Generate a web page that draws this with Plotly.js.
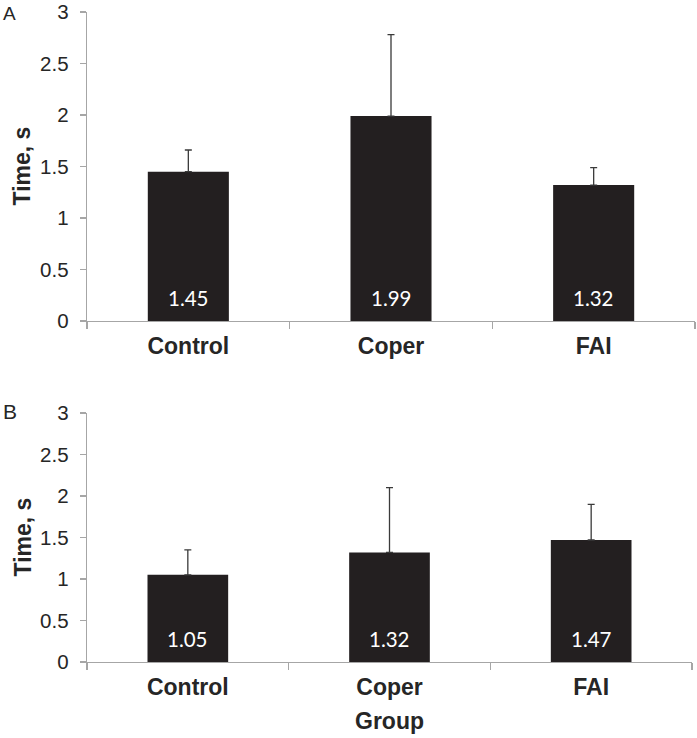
<!DOCTYPE html>
<html>
<head>
<meta charset="utf-8">
<script src="https://cdn.plot.ly/plotly-3.0.1.min.js"></script>
<style>html,body{margin:0;padding:0;background:#fff;}#chart{width:697px;height:738px;}</style>
</head>
<body>
<div id="chart"></div>
<script>
// Data
const groups = ["Control", "Coper", "FAI"];
const meanA = [1.45, 1.99, 1.32];
const errA = [0.21, 0.79, 0.17];
const meanB = [1.05, 1.32, 1.47];
const errB = [0.30, 0.78, 0.43];
const labelsA = ["1.45", "1.99", "1.32"];
const labelsB = ["1.05", "1.32", "1.47"];
const yTickVals = [0, 0.5, 1, 1.5, 2, 2.5, 3];
const yTickText = ["0", "0.5", "1", "1.5", "2", "2.5", "3"];
const yTitle = "Time, s";
const xTitleB = "Group";

const W = 697, H = 738;
const M = {l: 87, r: 2, t: 12, b: 76};
const plotW = W - M.l - M.r, plotH = H - M.t - M.b;
const pxX = px => (px - M.l) / plotW;
const pxY = py => 1 - (py - M.t) / plotH;

const barColor = "#231f20";
const axisColor = "#a6a6a6";
const textColor = "#262626";
const errColor = "#3a3a3a";
const sans = "'Liberation Sans', Arial, sans-serif";

function barTrace(vals, errs, xa, ya) {
  return {
    type: "bar", x: groups, y: vals, xaxis: xa, yaxis: ya,
    width: 0.4, marker: {color: barColor, line: {width: 0}},
    error_y: {type: "data", symmetric: false, array: errs, arrayminus: errs.map(() => 0),
      color: errColor, thickness: 1.3, width: 3.5},
    hoverinfo: "skip", showlegend: false
  };
}

function valueAnns(vals, labels, xa, ya) {
  return groups.map((g, i) => ({
    x: g, y: 0, xref: xa, yref: ya, text: labels[i], showarrow: false,
    yanchor: "bottom", yshift: 9,
    font: {family: "Lato, 'Open Sans', sans-serif", size: 20.5, color: "#ffffff"}
  }));
}

const xAxisBase = {
  type: "category", range: [-0.5, 2.5], tickson: "boundaries",
  ticks: "outside", ticklen: 7, tickcolor: axisColor, tickwidth: 1.3,
  showline: true, linecolor: axisColor, linewidth: 1.3,
  showgrid: false, zeroline: false, fixedrange: true,
  tickfont: {family: sans, size: 23, color: textColor, weight: "bold"},
  ticklabelstandoff: 4
};
const yAxisBase = {
  range: [0, 3], tickvals: yTickVals, ticktext: yTickText,
  ticks: "outside", ticklen: 6, tickcolor: axisColor, tickwidth: 1.3,
  showline: true, linecolor: axisColor, linewidth: 1.3,
  showgrid: false, zeroline: false, fixedrange: true,
  tickfont: {family: sans, size: 20.5, color: textColor},
  ticklabelstandoff: 7
};

const domA = [pxY(321), 1];
const domB = [0, pxY(413)];

function yTitleAnn(dom) {
  return {text: "<b>" + yTitle + "</b>", xref: "paper", yref: "paper",
    x: pxX(22), y: (dom[0] + dom[1]) / 2, xanchor: "center", yanchor: "middle",
    textangle: -90, showarrow: false, font: {family: sans, size: 23, color: textColor}};
}

const layout = {
  width: W, height: H,
  margin: M,
  paper_bgcolor: "#ffffff", plot_bgcolor: "#ffffff",
  showlegend: false,
  bargap: 0.6,
  xaxis: Object.assign({}, xAxisBase, {anchor: "y", domain: [0, 1]}),
  yaxis: Object.assign({}, yAxisBase, {anchor: "x", domain: domA}),
  xaxis2: Object.assign({}, xAxisBase, {anchor: "y2", domain: [0, pxX(692)],
    title: {text: "<b>" + xTitleB + "</b>", font: {family: sans, size: 23, color: textColor}, standoff: 14}}),
  yaxis2: Object.assign({}, yAxisBase, {anchor: "x2", domain: domB}),
  annotations: [
    ...valueAnns(meanA, labelsA, "x", "y"),
    ...valueAnns(meanB, labelsB, "x2", "y2"),
    yTitleAnn(domA),
    yTitleAnn(domB),
    {text: "A", xref: "paper", yref: "paper", x: pxX(1), y: pxY(1), xanchor: "left", yanchor: "top",
      showarrow: false, font: {family: sans, size: 19, color: textColor}},
    {text: "B", xref: "paper", yref: "paper", x: pxX(1), y: pxY(398), xanchor: "left", yanchor: "top",
      showarrow: false, font: {family: sans, size: 21, color: textColor}}
  ]
};

Plotly.newPlot("chart", [barTrace(meanA, errA, "x", "y"), barTrace(meanB, errB, "x2", "y2")], layout, {staticPlot: true, displayModeBar: false});
</script>
</body>
</html>
